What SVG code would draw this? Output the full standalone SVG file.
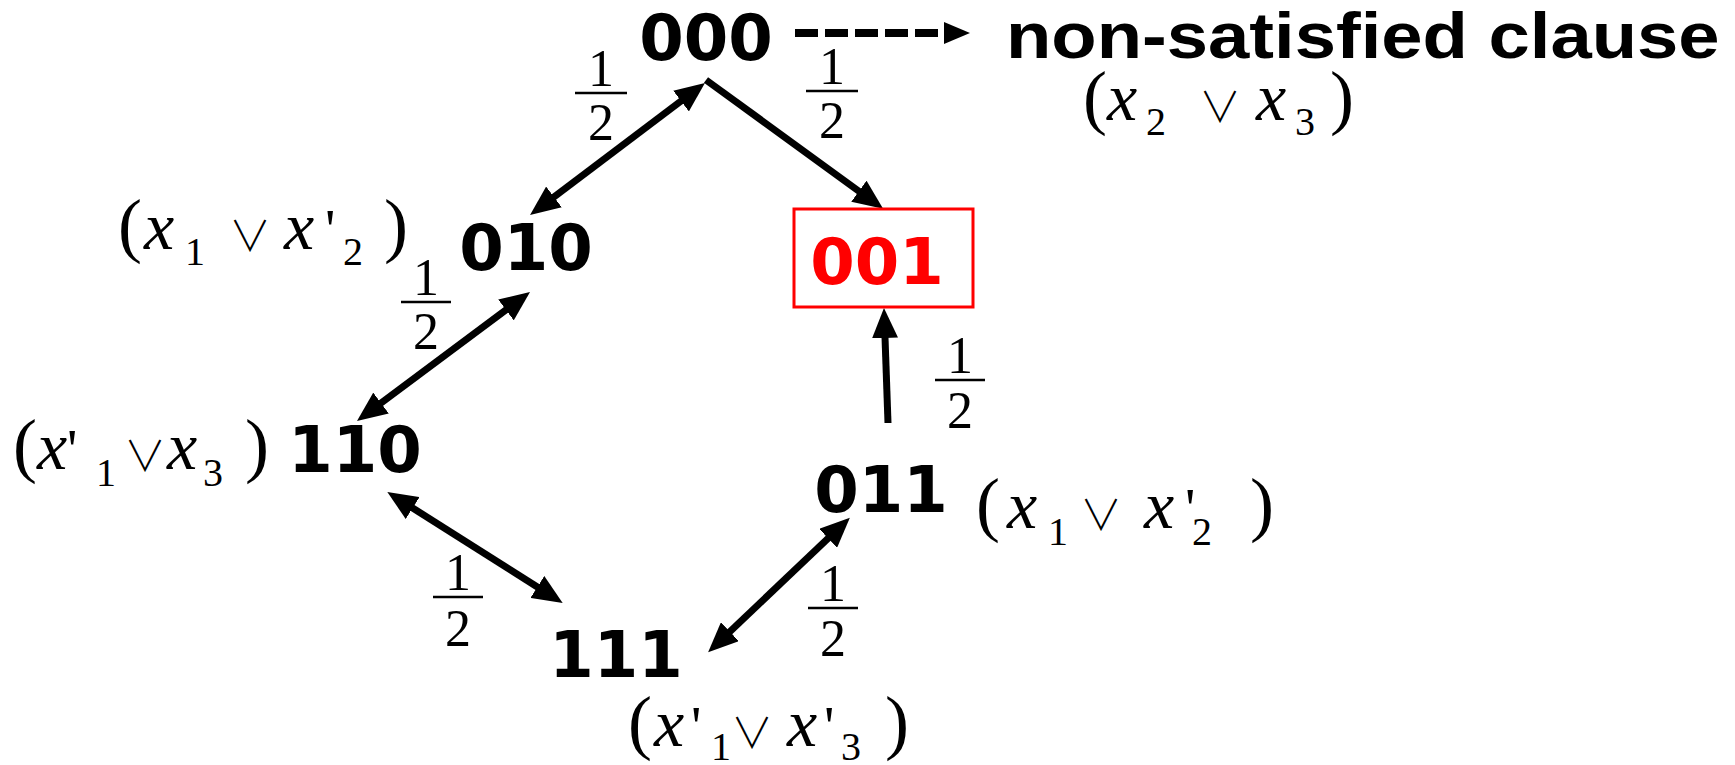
<svg xmlns="http://www.w3.org/2000/svg" width="1735" height="765" viewBox="0 0 1735 765">
  <style>
    .state { font-family: "DejaVu Sans", "Verdana", sans-serif; font-weight: bold; font-size: 64px; fill: #000; text-anchor: middle; }
    .state.bad { fill: #ff0000; }
    .title { font-family: "Liberation Sans", Arial, sans-serif; font-weight: bold; font-size: 64px; fill: #000; }
    .par { font-family: "Liberation Serif", "Times New Roman", serif; font-size: 72px; fill: #000; }
    .var { font-family: "Liberation Serif", "Times New Roman", serif; font-style: italic; font-size: 68px; fill: #000; }
    .sub { font-family: "Liberation Serif", "Times New Roman", serif; font-size: 40px; fill: #000; }
    .pr { font-family: "Liberation Serif", "Times New Roman", serif; font-size: 58px; fill: #000; }
    .or { font-family: "Noto Sans CJK JP", "DejaVu Sans", sans-serif; font-weight: 300; font-size: 42px; fill: #000; text-anchor: middle; }
    .num { font-family: "Liberation Serif", "Times New Roman", serif; font-size: 52px; fill: #000; text-anchor: middle; }
    .bar { stroke: #000; stroke-width: 2.5; }
    .edge { fill: none; stroke: #000; stroke-width: 7; }
    .dash { fill: none; stroke: #000; stroke-width: 8; stroke-dasharray: 23 7; }
  </style>
  <defs>
    <marker id="head" viewBox="0 0 30 26" refX="15" refY="13" markerWidth="30" markerHeight="26" markerUnits="userSpaceOnUse" orient="auto-start-reverse">
      <path d="M0,0 L30,13 L0,26 z" fill="#000"/>
    </marker>
    <marker id="headSmall" viewBox="0 0 26 22" refX="0" refY="11" markerWidth="26" markerHeight="22" markerUnits="userSpaceOnUse" orient="auto">
      <path d="M0,0 L26,11 L0,22 z" fill="#000"/>
    </marker>
  </defs>

  <!-- transitions between assignments -->
  <g id="connectors">
    <line class="edge" x1="542" y1="206" x2="693" y2="92" marker-start="url(#head)" marker-end="url(#head)"/>
    <line class="edge" x1="706" y1="80" x2="871" y2="200" marker-end="url(#head)"/>
    <line class="edge" x1="518" y1="301" x2="369" y2="412" marker-start="url(#head)" marker-end="url(#head)"/>
    <line class="edge" x1="400" y1="500" x2="550" y2="595" marker-start="url(#head)" marker-end="url(#head)"/>
    <line class="edge" x1="719" y1="642" x2="839" y2="528" marker-start="url(#head)" marker-end="url(#head)"/>
    <line class="edge" x1="888" y1="423" x2="884.5" y2="323" marker-end="url(#head)"/>
    <line class="dash" x1="795" y1="33" x2="944" y2="33" marker-end="url(#headSmall)"/>
  </g>

  <!-- probability labels -->
  <g id="weights">
    <g id="w1"><text class="num" x="601" y="86">1</text><line class="bar" x1="575" y1="93" x2="627" y2="93"/><text class="num" x="601" y="140">2</text></g>
    <g id="w2"><text class="num" x="832" y="84">1</text><line class="bar" x1="806" y1="91" x2="858" y2="91"/><text class="num" x="832" y="138">2</text></g>
    <g id="w3"><text class="num" x="426" y="295">1</text><line class="bar" x1="401" y1="302" x2="451" y2="302"/><text class="num" x="426" y="349">2</text></g>
    <g id="w4"><text class="num" x="960" y="373">1</text><line class="bar" x1="935" y1="380" x2="985" y2="380"/><text class="num" x="960" y="428">2</text></g>
    <g id="w5"><text class="num" x="458" y="590">1</text><line class="bar" x1="433" y1="597" x2="483" y2="597"/><text class="num" x="458" y="646">2</text></g>
    <g id="w6"><text class="num" x="833" y="601">1</text><line class="bar" x1="808" y1="608" x2="858" y2="608"/><text class="num" x="833" y="656">2</text></g>
  </g>

  <!-- assignment states -->
  <g id="n000"><text class="state" x="706" y="60">000</text></g>
  <g id="n010"><text class="state" x="526" y="270">010</text></g>
  <g id="n001">
    <rect x="794" y="209" width="179" height="98" fill="#fff" stroke="#ff0000" stroke-width="3"/>
    <text class="state bad" x="877" y="284">001</text>
  </g>
  <g id="n110"><text class="state" x="355" y="472">110</text></g>
  <g id="n011"><text class="state" x="881" y="512">011</text></g>
  <g id="n111"><text class="state" x="616" y="677">111</text></g>

  <g id="note"><text class="title" transform="translate(1006,58) scale(1.16,1)">non-satisfied clause</text></g>

  <!-- clauses -->
  <g id="c-x2-x3">
    <text class="par" x="1083" y="121">(</text>
    <text class="var" x="1107" y="120">x</text>
    <text class="sub" x="1146" y="135">2</text>
    <text class="or" x="1220" y="122">∨</text>
    <text class="var" x="1256" y="120">x</text>
    <text class="sub" x="1295" y="135">3</text>
    <text class="par" x="1330" y="121">)</text>
  </g>
  <g id="c-010">
    <text class="par" x="118" y="249">(</text>
    <text class="var" x="144" y="249">x</text>
    <text class="sub" x="185" y="265">1</text>
    <text class="or" x="250" y="251">∨</text>
    <text class="var" x="284" y="249">x</text>
    <text class="pr" x="325" y="249">'</text>
    <text class="sub" x="343" y="265">2</text>
    <text class="par" x="384" y="249">)</text>
  </g>
  <g id="c-110">
    <text class="par" x="13" y="469">(</text>
    <text class="var" x="37" y="469">x</text>
    <text class="pr" x="67" y="469">'</text>
    <text class="sub" x="96" y="486">1</text>
    <text class="or" x="145" y="471">∨</text>
    <text class="var" x="167" y="469">x</text>
    <text class="sub" x="203" y="486">3</text>
    <text class="par" x="245" y="469">)</text>
  </g>
  <g id="c-011">
    <text class="par" x="976" y="528">(</text>
    <text class="var" x="1007" y="528">x</text>
    <text class="sub" x="1048" y="545">1</text>
    <text class="or" x="1101" y="530">∨</text>
    <text class="var" x="1144" y="528">x</text>
    <text class="pr" x="1185" y="528">'</text>
    <text class="sub" x="1192" y="545">2</text>
    <text class="par" x="1250" y="528">)</text>
  </g>
  <g id="c-111">
    <text class="par" x="628" y="746">(</text>
    <text class="var" x="654" y="746">x</text>
    <text class="pr" x="691" y="746">'</text>
    <text class="sub" x="711" y="760">1</text>
    <text class="or" x="752" y="748">∨</text>
    <text class="var" x="787" y="746">x</text>
    <text class="pr" x="824" y="746">'</text>
    <text class="sub" x="841" y="760">3</text>
    <text class="par" x="885" y="746">)</text>
  </g>
</svg>
